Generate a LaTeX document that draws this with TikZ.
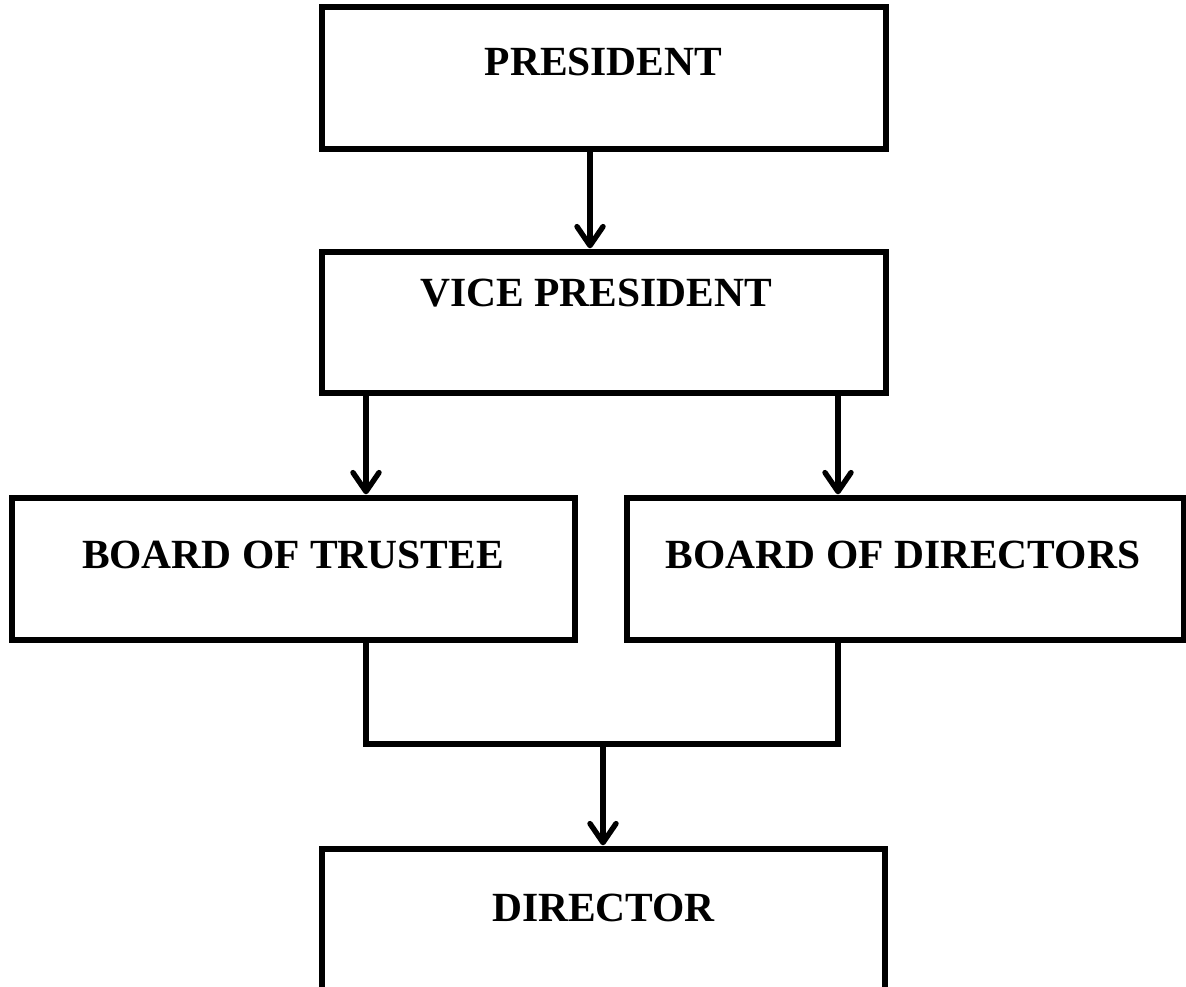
\documentclass[tikz,border=0pt]{standalone}
\usepackage{fontspec}
\setmainfont{Liberation Serif}
\usetikzlibrary{arrows.meta}
\begin{document}
\begin{tikzpicture}[x=1pt,y=1pt,
  box/.style={draw=black, line width=5.4pt, minimum width=#1, minimum height=142pt, inner sep=0pt},
  lbl/.style={font=\fontsize{41.5}{44}\selectfont\bfseries, inner sep=0pt},
  conn/.style={line width=5.4pt},
  arr/.style={conn, -{Straight Barb[length=19pt,width=26pt,line width=5.4pt,round]}}]
\useasboundingbox (0,-986) rectangle (1186,0);
\clip (0,-986) rectangle (1186,0);
% boxes
\node[box=564pt] (pres) at (604,-78) {};
\node[box=564pt, minimum height=141pt] (vp) at (604,-322.5) {};
\node[box=563pt] (tr) at (293.5,-569) {};
\node[box=557pt] (bd) at (905.5,-569) {};
\node[box=563pt] (dir) at (603.5,-920) {};
% labels
\node[lbl] (presT) at (603.5,-62) {PRESIDENT};
\node[lbl] (vpT) at (596,-293) {VICE PRESIDENT};
\node[lbl] (trT) at (293,-555) {BOARD OF TRUSTEE};
\node[lbl] (bdT) at (903,-555) {BOARD OF DIRECTORS};
\node[lbl] (dirT) at (603.5,-908) {DIRECTOR};
% helper x positions
\coordinate (xA) at (590,0);
\coordinate (xL) at (366,0);
\coordinate (xR) at (838,0);
\coordinate (j) at (603,-744);
% connectors
\draw[arr] (pres.south -| xA) -- ([yshift=1pt]vp.north -| xA);
\draw[arr] (vp.south -| xL) -- ([yshift=1pt]tr.north -| xL);
\draw[arr] (vp.south -| xR) -- ([yshift=1pt]bd.north -| xR);
\draw[conn] (tr.south -| xL) |- (j) -| (bd.south -| xR);
\draw[arr] (j) -- ([yshift=1pt]dir.north -| j);
\end{tikzpicture}
\end{document}
